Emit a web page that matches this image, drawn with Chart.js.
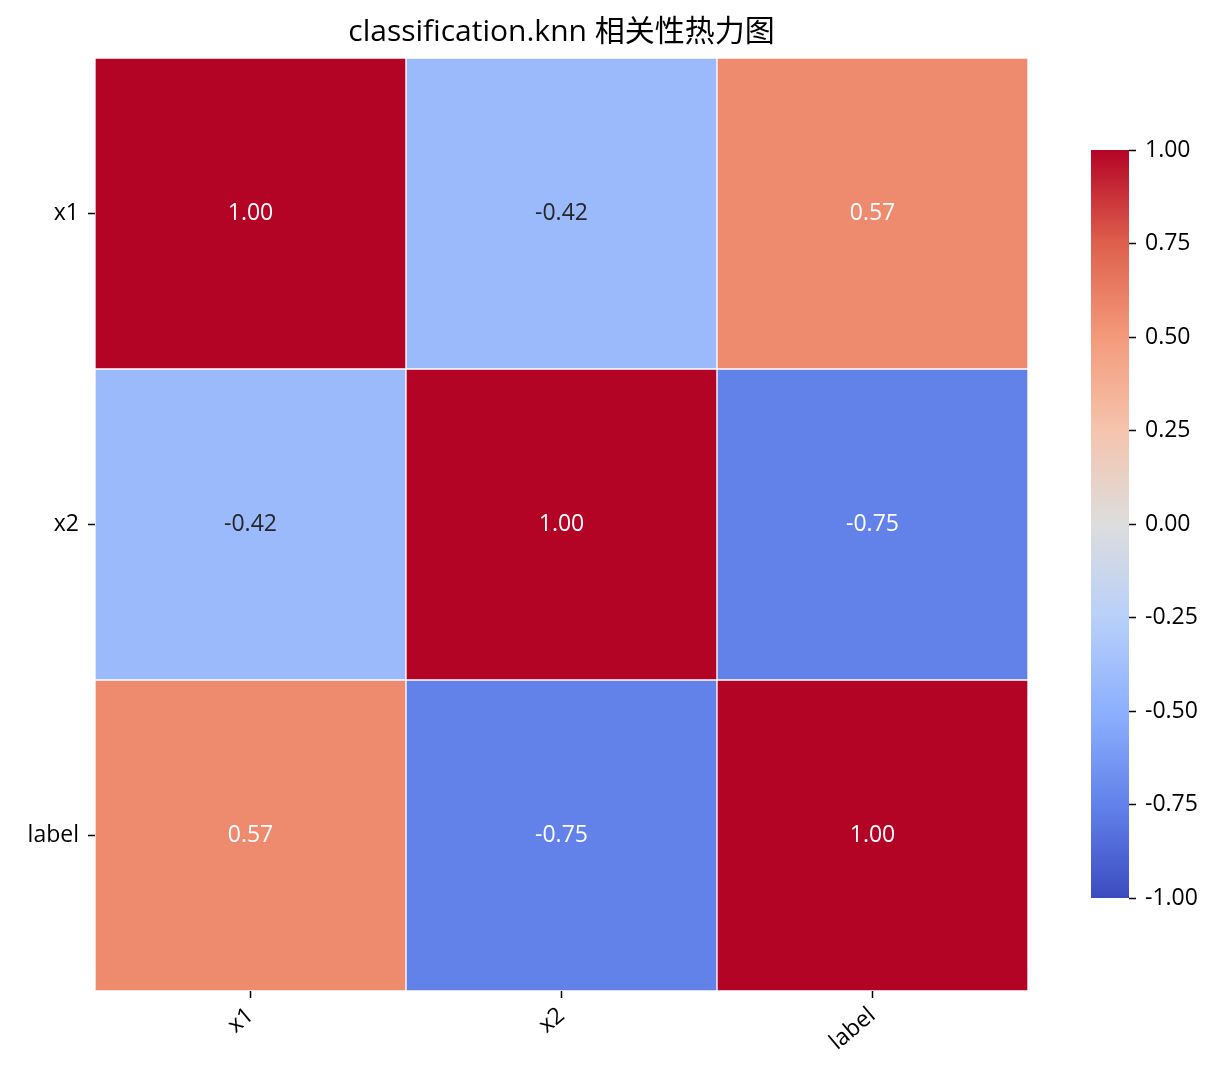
<!DOCTYPE html>
<html>
<head>
<meta charset="utf-8">
<script src="https://cdn.jsdelivr.net/npm/chart.js@4"></script>
<style>
  html, body { margin: 0; padding: 0; background: #fff; }
  #wrap { position: relative; width: 1225px; height: 1082px; }
  #heat { position: absolute; left: 0; top: 0; }
  #bar { position: absolute; left: 1060px; top: 0; }
</style>
</head>
<body>
<div id="wrap">
  <canvas id="heat" width="1123" height="1082"></canvas>
  <canvas id="bar" width="165" height="1082"></canvas>
</div>
<script>
const features = ['x1', 'x2', 'label'];
const corrRows = [
    [1.00, -0.42, 0.57],
    [-0.42, 1.00, -0.75],
    [0.57, -0.75, 1.00]
];
const colorbarTicks = [-1, -0.75, -0.5, -0.25, 0, 0.25, 0.5, 0.75, 1];
const titleText = 'classification.knn 相关性热力图';

const FONT = "'Open Sans', 'Noto Sans CJK SC', sans-serif";

// coolwarm anchor colours (0 -> 1)
const coolwarm = [
    [59, 76, 192], [98, 130, 234], [141, 176, 254], [184, 208, 249],
    [221, 221, 221], [245, 196, 173], [244, 154, 123], [222, 96, 77], [180, 4, 38]
];
function cmap(v) {
    let t = (v + 1) / 2;
    t = Math.max(0, Math.min(1, t));
    const p = t * (coolwarm.length - 1);
    const i = Math.min(Math.floor(p), coolwarm.length - 2);
    const f = p - i;
    const a = coolwarm[i], b = coolwarm[i + 1];
    return [0, 1, 2].map(k => Math.round(a[k] + (b[k] - a[k]) * f));
}
function rgb(c) { return `rgb(${c[0]},${c[1]},${c[2]})`; }

// same rule as seaborn: dark text on light cells
function textColor(c) {
    const lin = c.map(x => {
        x = x / 255;
        return x <= 0.03928 ? x / 12.92 : Math.pow((x + 0.055) / 1.055, 2.4);
    });
    const lum = 0.2126 * lin[0] + 0.7152 * lin[1] + 0.0722 * lin[2];
    return lum > 0.408 ? '#262626' : '#ffffff';
}

const cellLabels = {
    id: 'cellLabels',
    afterDatasetsDraw(chart) {
        const ctx = chart.ctx;
        ctx.save();
        ctx.font = `23px ${FONT}`;
        ctx.textAlign = 'center';
        ctx.textBaseline = 'middle';
        chart.data.datasets.forEach((ds, r) => {
            const meta = chart.getDatasetMeta(r);
            meta.data.forEach((bar, c) => {
                const v = corrRows[r][c];
                ctx.fillStyle = textColor(cmap(v));
                const yMid = (bar.y + bar.base) / 2;
                ctx.fillText(v.toFixed(2), bar.x, yMid);
            });
        });
        // title, centred over the heatmap
        const area = chart.chartArea;
        ctx.fillStyle = '#000';
        ctx.font = `30px ${FONT}`;
        ctx.fillText(titleText, (area.left + area.right) / 2, 32);
        ctx.restore();
    }
};

new Chart(document.getElementById('heat'), {
    type: 'bar',
    data: {
        labels: features,
        datasets: corrRows.map((row, r) => ({
            label: features[r],
            data: row.map(() => [r, r + 1]),
            backgroundColor: row.map(v => rgb(cmap(v))),
            borderColor: '#ffffff',
            borderWidth: 1,
            borderSkipped: false,
            grouped: false,
            categoryPercentage: 1,
            barPercentage: 1
        }))
    },
    options: {
        responsive: false,
        animation: false,
        layout: { padding: { right: 95, left: 0, top: 58 } },
        plugins: {
            legend: { display: false },
            tooltip: { enabled: false },
            title: { display: false }
        },
        scales: {
            x: {
                type: 'category',
                offset: true,
                grid: { offset: false, drawOnChartArea: false, tickLength: 7, tickColor: '#000', tickWidth: 1.5 },
                border: { display: false },
                ticks: { color: '#000', font: { family: FONT, size: 23 }, minRotation: 40, maxRotation: 40, padding: 4 },
                afterFit(scale) { scale.height = 91; }
            },
            y: {
                type: 'linear',
                min: 0, max: 3, reverse: true,
                afterBuildTicks(scale) { scale.ticks = [0.5, 1.5, 2.5].map(v => ({ value: v })); },
                grid: { drawOnChartArea: false, tickLength: 7, tickColor: '#000', tickWidth: 1.5 },
                border: { display: false },
                ticks: {
                    color: '#000', font: { family: FONT, size: 23 }, padding: 9,
                    callback: v => features[Math.floor(v)]
                },
                afterFit(scale) { scale.width = 95; }
            }
        }
    },
    plugins: [cellLabels]
});

new Chart(document.getElementById('bar'), {
    type: 'bar',
    data: {
        labels: ['colorbar'],
        datasets: [{
            data: [[colorbarTicks[0], colorbarTicks[colorbarTicks.length - 1]]],
            borderWidth: 0,
            categoryPercentage: 1,
            barPercentage: 1,
            backgroundColor(context) {
                const chart = context.chart;
                const y = chart.scales.y;
                if (!y) return '#ddd';
                const y0 = y.getPixelForValue(-1), y1 = y.getPixelForValue(1);
                if (!isFinite(y0) || !isFinite(y1)) return '#ddd';
                const g = chart.ctx.createLinearGradient(0, y0, 0, y1);
                coolwarm.forEach((c, i) => g.addColorStop(i / (coolwarm.length - 1), rgb(c)));
                return g;
            }
        }]
    },
    options: {
        responsive: false,
        animation: false,
        layout: { padding: { left: 31, top: 150, bottom: 0 } },
        plugins: { legend: { display: false }, tooltip: { enabled: false } },
        scales: {
            x: {
                display: true,
                grid: { display: false },
                border: { display: false },
                ticks: { display: false },
                afterFit(scale) { scale.height = 184; }
            },
            y: {
                position: 'right',
                min: -1, max: 1,
                afterBuildTicks(scale) { scale.ticks = colorbarTicks.map(v => ({ value: v })); },
                grid: { drawOnChartArea: false, tickLength: 7, tickColor: '#000', tickWidth: 1.5 },
                border: { display: false },
                ticks: {
                    color: '#000', font: { family: FONT, size: 23 }, padding: 9,
                    callback: v => v.toFixed(2)
                },
                afterFit(scale) { scale.width = 96; }
            }
        }
    }
});
</script>
</body>
</html>
